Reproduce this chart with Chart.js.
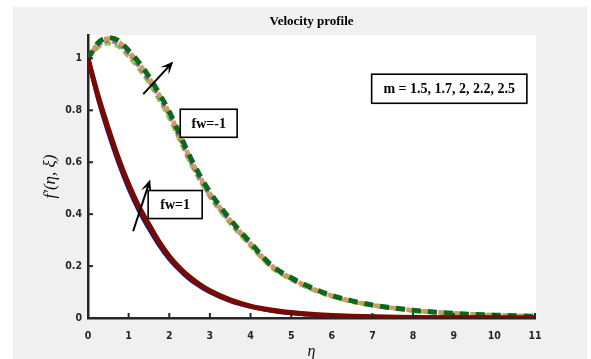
<!DOCTYPE html>
<html><head><meta charset="utf-8">
<script src="https://cdn.jsdelivr.net/npm/chart.js@4/dist/chart.umd.min.js"></script>
<style>html,body{margin:0;padding:0;background:#fff;}canvas{display:block;}</style>
</head><body>
<canvas id="c" width="591" height="359"></canvas>
<script>
// ---- data ----
const etaValues = [0,0.25,0.5,0.75,1,1.25,1.5,1.75,2,2.25,2.5,2.75,3,3.5,4,4.5,5,5.5,6,6.5,7,8,9,10,11];
// fw = 1 group
const fwOneNavy   = [1,0.845,0.715,0.600,0.500,0.415,0.345,0.281,0.228,0.186,0.150,0.123,0.100,0.066,0.044,0.029,0.019,0.013,0.009,0.006,0.004,0.002,0.001,0.0004,0];
const fwOneMaroon = [1,0.855,0.730,0.615,0.515,0.430,0.360,0.293,0.238,0.194,0.158,0.129,0.105,0.070,0.046,0.031,0.021,0.014,0.010,0.007,0.005,0.002,0.001,0.0005,0];
// fw = -1 group
const fwMinusGreen  = [1,1.060,1.080,1.068,1.030,0.985,0.930,0.865,0.795,0.710,0.625,0.550,0.485,0.380,0.290,0.205,0.155,0.117,0.087,0.066,0.050,0.030,0.018,0.011,0.007];
const fwMinusTan    = [1,1.058,1.077,1.064,1.027,0.980,0.926,0.860,0.790,0.705,0.620,0.545,0.480,0.376,0.287,0.203,0.153,0.115,0.086,0.065,0.050,0.030,0.018,0.011,0.007];
const fwMinusPurple = [1,1.050,1.068,1.055,1.017,0.970,0.915,0.850,0.780,0.695,0.610,0.537,0.472,0.370,0.282,0.200,0.150,0.113,0.084,0.064,0.049,0.029,0.017,0.010,0.006];
const fwMinusLime   = [1,1.042,1.058,1.045,1.007,0.960,0.905,0.840,0.770,0.686,0.602,0.530,0.466,0.364,0.277,0.196,0.147,0.110,0.082,0.062,0.048,0.028,0.017,0.010,0.006];
const xTicks = [0,1,2,3,4,5,6,7,8,9,10,11];
const yTicks = [0,0.2,0.4,0.6,0.8,1];
const yTickLabels = ['0','0.2','0.4','0.6','0.8','1'];
const titleText = 'Velocity profile';
const xLabel = 'η';
const yLabel = 'f′(η, ξ)';
// annotations in data coordinates: [textLabel, etaLeft, fTop, etaRight, fBottom]
const boxFwMinus = ['fw=-1', 2.27, 0.804, 3.67, 0.696];
const boxFwPlus  = ['fw=1', 1.48, 0.491, 2.81, 0.383];
const boxM       = ['m = 1.5, 1.7, 2, 2.2, 2.5', 6.98, 0.939, 10.80, 0.827];
const arrowFwPlus  = [1.11, 0.334, 1.53, 0.533];
const arrowFwMinus = [1.36, 0.862, 2.10, 0.988];

const pts = arr => arr.map((v,i)=>({x:etaValues[i], y:v}));
const AX = '#262626';
const tickFont = {family:"'DejaVu Sans Condensed','DejaVu Sans',sans-serif", size:10.5, weight:'bold'};

const decor = {
  id:'decor',
  beforeDraw(chart){
    const {ctx, chartArea:a} = chart;
    ctx.save();
    ctx.fillStyle = '#f0f0f0';
    ctx.fillRect(13,7,574,352);
    ctx.fillStyle = '#ffffff';
    ctx.fillRect(a.left, a.top, a.right-a.left+1, a.bottom-a.top);
    ctx.fillStyle = '#000';
    ctx.font = "bold 13px 'Liberation Serif', serif";
    ctx.textAlign = 'center'; ctx.textBaseline = 'middle';
    ctx.fillText(titleText, (a.left+a.right)/2, 22);
    ctx.restore();
  },
  afterDraw(chart){
    const {ctx, chartArea:a, scales:{x,y}} = chart;
    ctx.save();
    ctx.strokeStyle = AX; ctx.lineWidth = 2;
    xTicks.forEach(v=>{const p=x.getPixelForValue(v); ctx.beginPath(); ctx.moveTo(p,a.bottom); ctx.lineTo(p,a.bottom-5); ctx.stroke();});
    yTicks.forEach(v=>{const p=y.getPixelForValue(v); ctx.beginPath(); ctx.moveTo(a.left,p); ctx.lineTo(a.left+5,p); ctx.stroke();});
    const arrow = (d)=>{
      const x0=x.getPixelForValue(d[0]), y0=y.getPixelForValue(d[1]);
      const x1=x.getPixelForValue(d[2]), y1=y.getPixelForValue(d[3]);
      const ang=Math.atan2(y1-y0,x1-x0), L=11, W=5.5;
      const bx=x1-L*Math.cos(ang), by=y1-L*Math.sin(ang);
      ctx.strokeStyle='#000'; ctx.lineWidth=2;
      ctx.beginPath(); ctx.moveTo(x0,y0); ctx.lineTo(x1-6*Math.cos(ang),y1-6*Math.sin(ang)); ctx.stroke();
      ctx.fillStyle='#000'; ctx.beginPath();
      ctx.moveTo(x1,y1);
      ctx.lineTo(bx+W*Math.sin(ang)-2*Math.cos(ang), by-W*Math.cos(ang)-2*Math.sin(ang));
      ctx.lineTo(x1-7*Math.cos(ang), y1-7*Math.sin(ang));
      ctx.lineTo(bx-W*Math.sin(ang)-2*Math.cos(ang), by+W*Math.cos(ang)-2*Math.sin(ang));
      ctx.closePath(); ctx.fill();
    };
    arrow(arrowFwPlus); arrow(arrowFwMinus);
    const box = (b)=>{
      const l=x.getPixelForValue(b[1]), t=y.getPixelForValue(b[2]);
      const r=x.getPixelForValue(b[3]), bt=y.getPixelForValue(b[4]);
      ctx.fillStyle='#fff'; ctx.fillRect(l,t,r-l,bt-t);
      ctx.strokeStyle='#000'; ctx.lineWidth=1.6; ctx.strokeRect(l,t,r-l,bt-t);
      ctx.fillStyle='#000'; ctx.font="bold 14px 'Liberation Serif', serif";
      ctx.textAlign='center'; ctx.textBaseline='middle';
      ctx.fillText(b[0], (l+r)/2, (t+bt)/2+1);
    };
    box(boxFwMinus); box(boxFwPlus); box(boxM);
    ctx.restore();
  }
};

const base = {fill:false, pointRadius:0, cubicInterpolationMode:'monotone', borderCapStyle:'butt'};
new Chart(document.getElementById('c'), {
  type:'line',
  data:{datasets:[
    Object.assign({label:'fw=1 a', data:pts(fwOneMaroon), borderColor:'#7a0a00', borderWidth:5}, base),
    Object.assign({label:'fw=1 b', data:pts(fwOneNavy), borderColor:'#1a1a80', borderWidth:4.5}, base),
    Object.assign({label:'fw=-1 a', data:pts(fwMinusGreen), borderColor:'#0b6a1a', borderWidth:5, borderDash:[9,7]}, base),
    Object.assign({label:'fw=-1 b', data:pts(fwMinusTan), borderColor:'#cf9a5c', borderWidth:4.5, borderDash:[6,10], borderDashOffset:-9.5}, base),
    Object.assign({label:'fw=-1 c', data:pts(fwMinusPurple), borderColor:'#b45cc4', borderWidth:4, borderDash:[5,3]}, base),
    Object.assign({label:'fw=-1 d', data:pts(fwMinusLime), borderColor:'#84d43c', borderWidth:4, borderDash:[7,4]}, base)
  ]},
  options:{
    responsive:false, animation:false, devicePixelRatio:1,
    layout:{padding:{left:13, top:35, right:56, bottom:0}},
    plugins:{legend:{display:false}, tooltip:{enabled:false}, title:{display:false}},
    scales:{
      x:{type:'linear', min:0, max:11, z:1,
        afterBuildTicks:s=>{s.ticks = xTicks.map(v=>({value:v}));},
        afterFit:s=>{s.height = 41;},
        grid:{display:false, drawTicks:false, tickLength:0},
        border:{display:true, color:AX, width:2.5},
        ticks:{font:tickFont, color:AX, padding:12, maxRotation:0, autoSkip:false, callback:v=>String(v)},
        title:{display:true, text:xLabel, color:'#111', font:{family:"'Liberation Serif', serif", size:16, style:'italic', lineHeight:1}, padding:{top:0,bottom:-1}}
      },
      y:{type:'linear', min:0, max:1.09, z:1,
        afterBuildTicks:s=>{s.ticks = yTicks.map(v=>({value:v}));},
        afterFit:s=>{s.width = 75;},
        grid:{display:false, drawTicks:false, tickLength:0},
        border:{display:true, color:AX, width:2.5},
        ticks:{font:tickFont, color:AX, padding:6, autoSkip:false, callback:(v)=>yTickLabels[yTicks.indexOf(v)] ?? ''},
        title:{display:true, text:yLabel, color:'#111', font:{family:"'Liberation Serif', serif", size:17, style:'italic', lineHeight:1.2}, padding:{top:27, bottom:0}}
      }
    }
  },
  plugins:[decor]
});
</script>
</body></html>
